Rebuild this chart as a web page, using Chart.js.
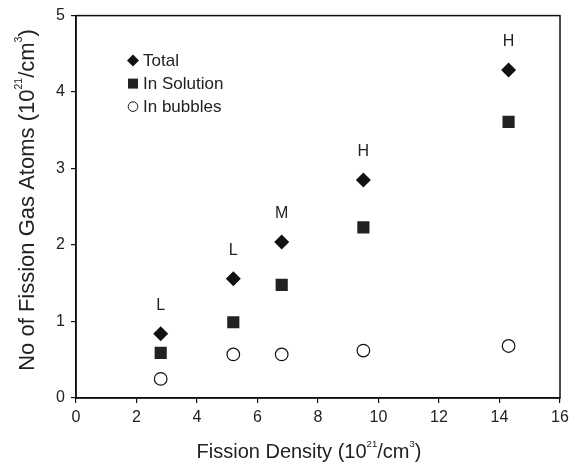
<!DOCTYPE html>
<html>
<head>
<meta charset="utf-8">
<script src="https://cdn.jsdelivr.net/npm/chart.js@4/dist/chart.umd.min.js"></script>
<style>
  html, body { margin: 0; padding: 0; background: #fff; }
  #wrap { width: 578px; height: 466px; position: relative; }
</style>
</head>
<body>
<div id="wrap"><canvas id="c"></canvas></div>
<script>
// Fission density (10^21/cm^3) for each sample
const fissionDensity = [2.8, 5.2, 6.8, 9.5, 14.3];
// Fission gas atoms (10^21/cm^3)
const totalGas = [0.84, 1.56, 2.04, 2.85, 4.29];
const inSolution = [0.59, 0.99, 1.48, 2.23, 3.61];
const inBubbles = [0.25, 0.57, 0.57, 0.62, 0.68];
// Temperature class written above each Total point
const rateLabels = ['L', 'L', 'M', 'H', 'H'];
const seriesNames = ['Total', 'In Solution', 'In bubbles'];
const xTicks = [0, 2, 4, 6, 8, 10, 12, 14, 16];
const yTicks = [0, 1, 2, 3, 4, 5];
// Axis titles as runs of normal / superscript text
const xTitleParts = [['Fission Density (10', false], ['21', true], ['/cm', false], ['3', true], [')', false]];
const yTitleParts = [['No of Fission Gas Atoms (10', false], ['21', true], ['/cm', false], ['3', true], [')', false]];

const FONT = '"Liberation Sans", Arial, sans-serif';
const INK = '#222';

const toXY = (ys) => ys.map((y, i) => ({ x: fissionDensity[i], y }));

// Draws a title with superscripts, centred on (0, 0) with baseline at y = 0
function drawRichTitle(ctx, parts, size) {
  const mainFont = size + 'px ' + FONT, supFont = (size * 0.48) + 'px ' + FONT;
  const rise = size * 0.55;
  let total = 0;
  const widths = parts.map(([t, sup]) => {
    ctx.font = sup ? supFont : mainFont;
    const w = ctx.measureText(t).width;
    total += w;
    return w;
  });
  let x = -total / 2;
  ctx.textAlign = 'left';
  ctx.textBaseline = 'alphabetic';
  parts.forEach(([t, sup], i) => {
    ctx.font = sup ? supFont : mainFont;
    ctx.fillText(t, x, sup ? -rise : 0);
    x += widths[i];
  });
}

// Frame around the plot, class labels, axis titles and the inset legend
const decorations = {
  id: 'decorations',
  afterDatasetsDraw(chart) {
    const { ctx, chartArea: a, scales } = chart;
    ctx.save();
    ctx.strokeStyle = '#111';
    ctx.lineWidth = 1.5;
    ctx.strokeRect(a.left, a.top, a.right - a.left, a.bottom - a.top);

    ctx.fillStyle = INK;
    ctx.font = '16px ' + FONT;
    ctx.textAlign = 'center';
    ctx.textBaseline = 'middle';
    rateLabels.forEach((lab, i) => {
      const px = scales.x.getPixelForValue(fissionDensity[i]);
      const py = scales.y.getPixelForValue(totalGas[i]);
      ctx.fillText(lab, px, py - 28);
    });

    // axis titles
    ctx.save();
    ctx.translate(309, 458);
    drawRichTitle(ctx, xTitleParts, 20);
    ctx.restore();
    ctx.save();
    ctx.translate(34, 200);
    ctx.rotate(-Math.PI / 2);
    drawRichTitle(ctx, yTitleParts, 22);
    ctx.restore();

    // legend
    const lx = a.left + 57, ly0 = a.top + 45, step = 23;
    ctx.font = '17px ' + FONT;
    ctx.textAlign = 'left';
    ctx.textBaseline = 'middle';
    seriesNames.forEach((name, i) => {
      const y = ly0 + i * step;
      ctx.fillStyle = i === 2 ? '#fff' : (i === 0 ? '#111' : INK);
      ctx.strokeStyle = '#111';
      ctx.lineWidth = 1;
      ctx.beginPath();
      if (i === 0) {
        ctx.moveTo(lx, y - 6); ctx.lineTo(lx + 6, y); ctx.lineTo(lx, y + 6); ctx.lineTo(lx - 6, y);
        ctx.closePath(); ctx.fill();
      } else if (i === 1) {
        ctx.rect(lx - 5, y - 5, 10, 10); ctx.fill();
      } else {
        ctx.arc(lx, y, 4.8, 0, Math.PI * 2); ctx.fill(); ctx.stroke();
      }
      ctx.fillStyle = INK;
      ctx.fillText(name, lx + 10, y + 1);
    });
    ctx.restore();
  }
};

new Chart(document.getElementById('c'), {
  type: 'scatter',
  data: {
    datasets: [
      {
        label: seriesNames[0], data: toXY(totalGas),
        pointStyle: 'rectRot', pointRadius: 7.5, pointHoverRadius: 7.5,
        backgroundColor: '#111', borderColor: '#111', borderWidth: 0
      },
      {
        label: seriesNames[1], data: toXY(inSolution),
        pointStyle: 'rect', pointRadius: 8.6, pointHoverRadius: 8.6,
        backgroundColor: INK, borderColor: INK, borderWidth: 0
      },
      {
        label: seriesNames[2], data: toXY(inBubbles),
        pointStyle: 'circle', pointRadius: 6.3, pointHoverRadius: 6.3,
        backgroundColor: '#fff', borderColor: '#111', borderWidth: 1.2
      }
    ]
  },
  options: {
    responsive: true,
    maintainAspectRatio: false,
    animation: false,
    events: [],
    layout: { padding: { top: 15, right: 18, left: 0, bottom: 0 } },
    plugins: { legend: { display: false }, tooltip: { enabled: false } },
    scales: {
      x: {
        type: 'linear', min: 0, max: 16,
        afterFit: (s) => { s.height = 68; },
        afterBuildTicks: (s) => { s.ticks = xTicks.map(v => ({ value: v })); },
        grid: { drawOnChartArea: false, drawTicks: true, tickLength: 5, color: '#111', lineWidth: 1.2 },
        border: { display: true, color: '#111', width: 1.5 },
        ticks: { color: INK, font: { family: FONT, size: 16 }, padding: 5, maxRotation: 0 },
        title: { display: false }
      },
      y: {
        type: 'linear', min: 0, max: 5,
        afterFit: (s) => { s.width = 76; },
        afterBuildTicks: (s) => { s.ticks = yTicks.map(v => ({ value: v })); },
        grid: { drawOnChartArea: false, drawTicks: true, tickLength: 5, color: '#111', lineWidth: 1.2 },
        border: { display: true, color: '#111', width: 1.5 },
        ticks: { color: INK, font: { family: FONT, size: 16 }, padding: 6 },
        title: { display: false }
      }
    }
  },
  plugins: [decorations]
});
</script>
</body>
</html>
